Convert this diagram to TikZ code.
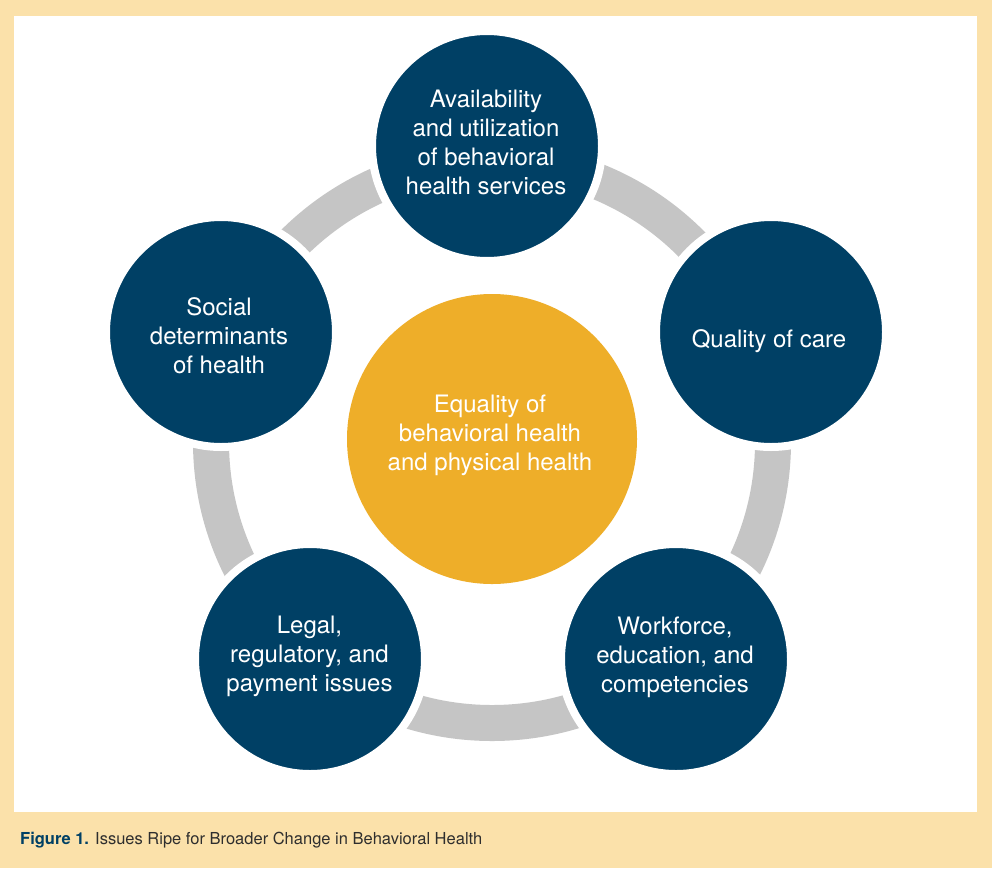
\documentclass[tikz,border=0pt]{standalone}
\usepackage{fontspec}
\setmainfont{TeX Gyre Heros}
\definecolor{navy}{HTML}{004065}
\definecolor{gold}{HTML}{EEAE29}
\definecolor{ringgray}{HTML}{C5C5C5}
\definecolor{peach}{HTML}{FBE1AA}
\definecolor{capgray}{HTML}{2E2E2E}
\tikzset{
  bluec/.style={circle, fill=navy, draw=white, line width=8pt, minimum size=230pt, inner sep=0pt},
  goldc/.style={circle, fill=gold, minimum size=290pt, inner sep=0pt},
  txt/.style={align=center, text=white, inner sep=0pt, font=\fontsize{24}{29}\selectfont},
  ring/.style={draw=ringgray, line width=36pt}
}
\begin{document}
\begin{tikzpicture}[x=1pt,y=-1pt]
\useasboundingbox (0,0) rectangle (992,868);
\fill[peach] (0,0) rectangle (992,868);
\fill[white] (14,16) rectangle (977,812);
\coordinate (ctr) at (492,442);
\draw[ring] (ctr) circle[radius=281pt];
\node[bluec] (avail) at (487,146) {};
\node[bluec] (quality) at (771,332) {};
\node[bluec] (work) at (676,659) {};
\node[bluec] (legal) at (310,659) {};
\node[bluec] (social) at (221,332) {};
\node[goldc] (equal) at (492,439) {};
\node[txt] (tavail) at (486,142) {Availability\\and utilization\\of behavioral\\health services};
\node[txt] (tquality) at (769,341) {Quality of care};
\node[txt] (twork) at (675,657) {Workforce,\\education, and\\competencies};
\node[txt] (tlegal) at (309.5,656) {Legal,\\regulatory, and\\payment issues};
\node[txt] (tsocial) at (219,336) {Social\\determinants\\of health};
\node[txt] (tequal) at (490,435) {Equality of\\behavioral health\\and physical health};
\node[anchor=base west, inner sep=0pt, font=\fontsize{16.5}{20}\selectfont] (cap) at (20,844)
  {\textcolor{navy}{\textbf{Figure 1.}} \textcolor{capgray}{Issues Ripe for Broader Change in Behavioral Health}};
\end{tikzpicture}
\end{document}
